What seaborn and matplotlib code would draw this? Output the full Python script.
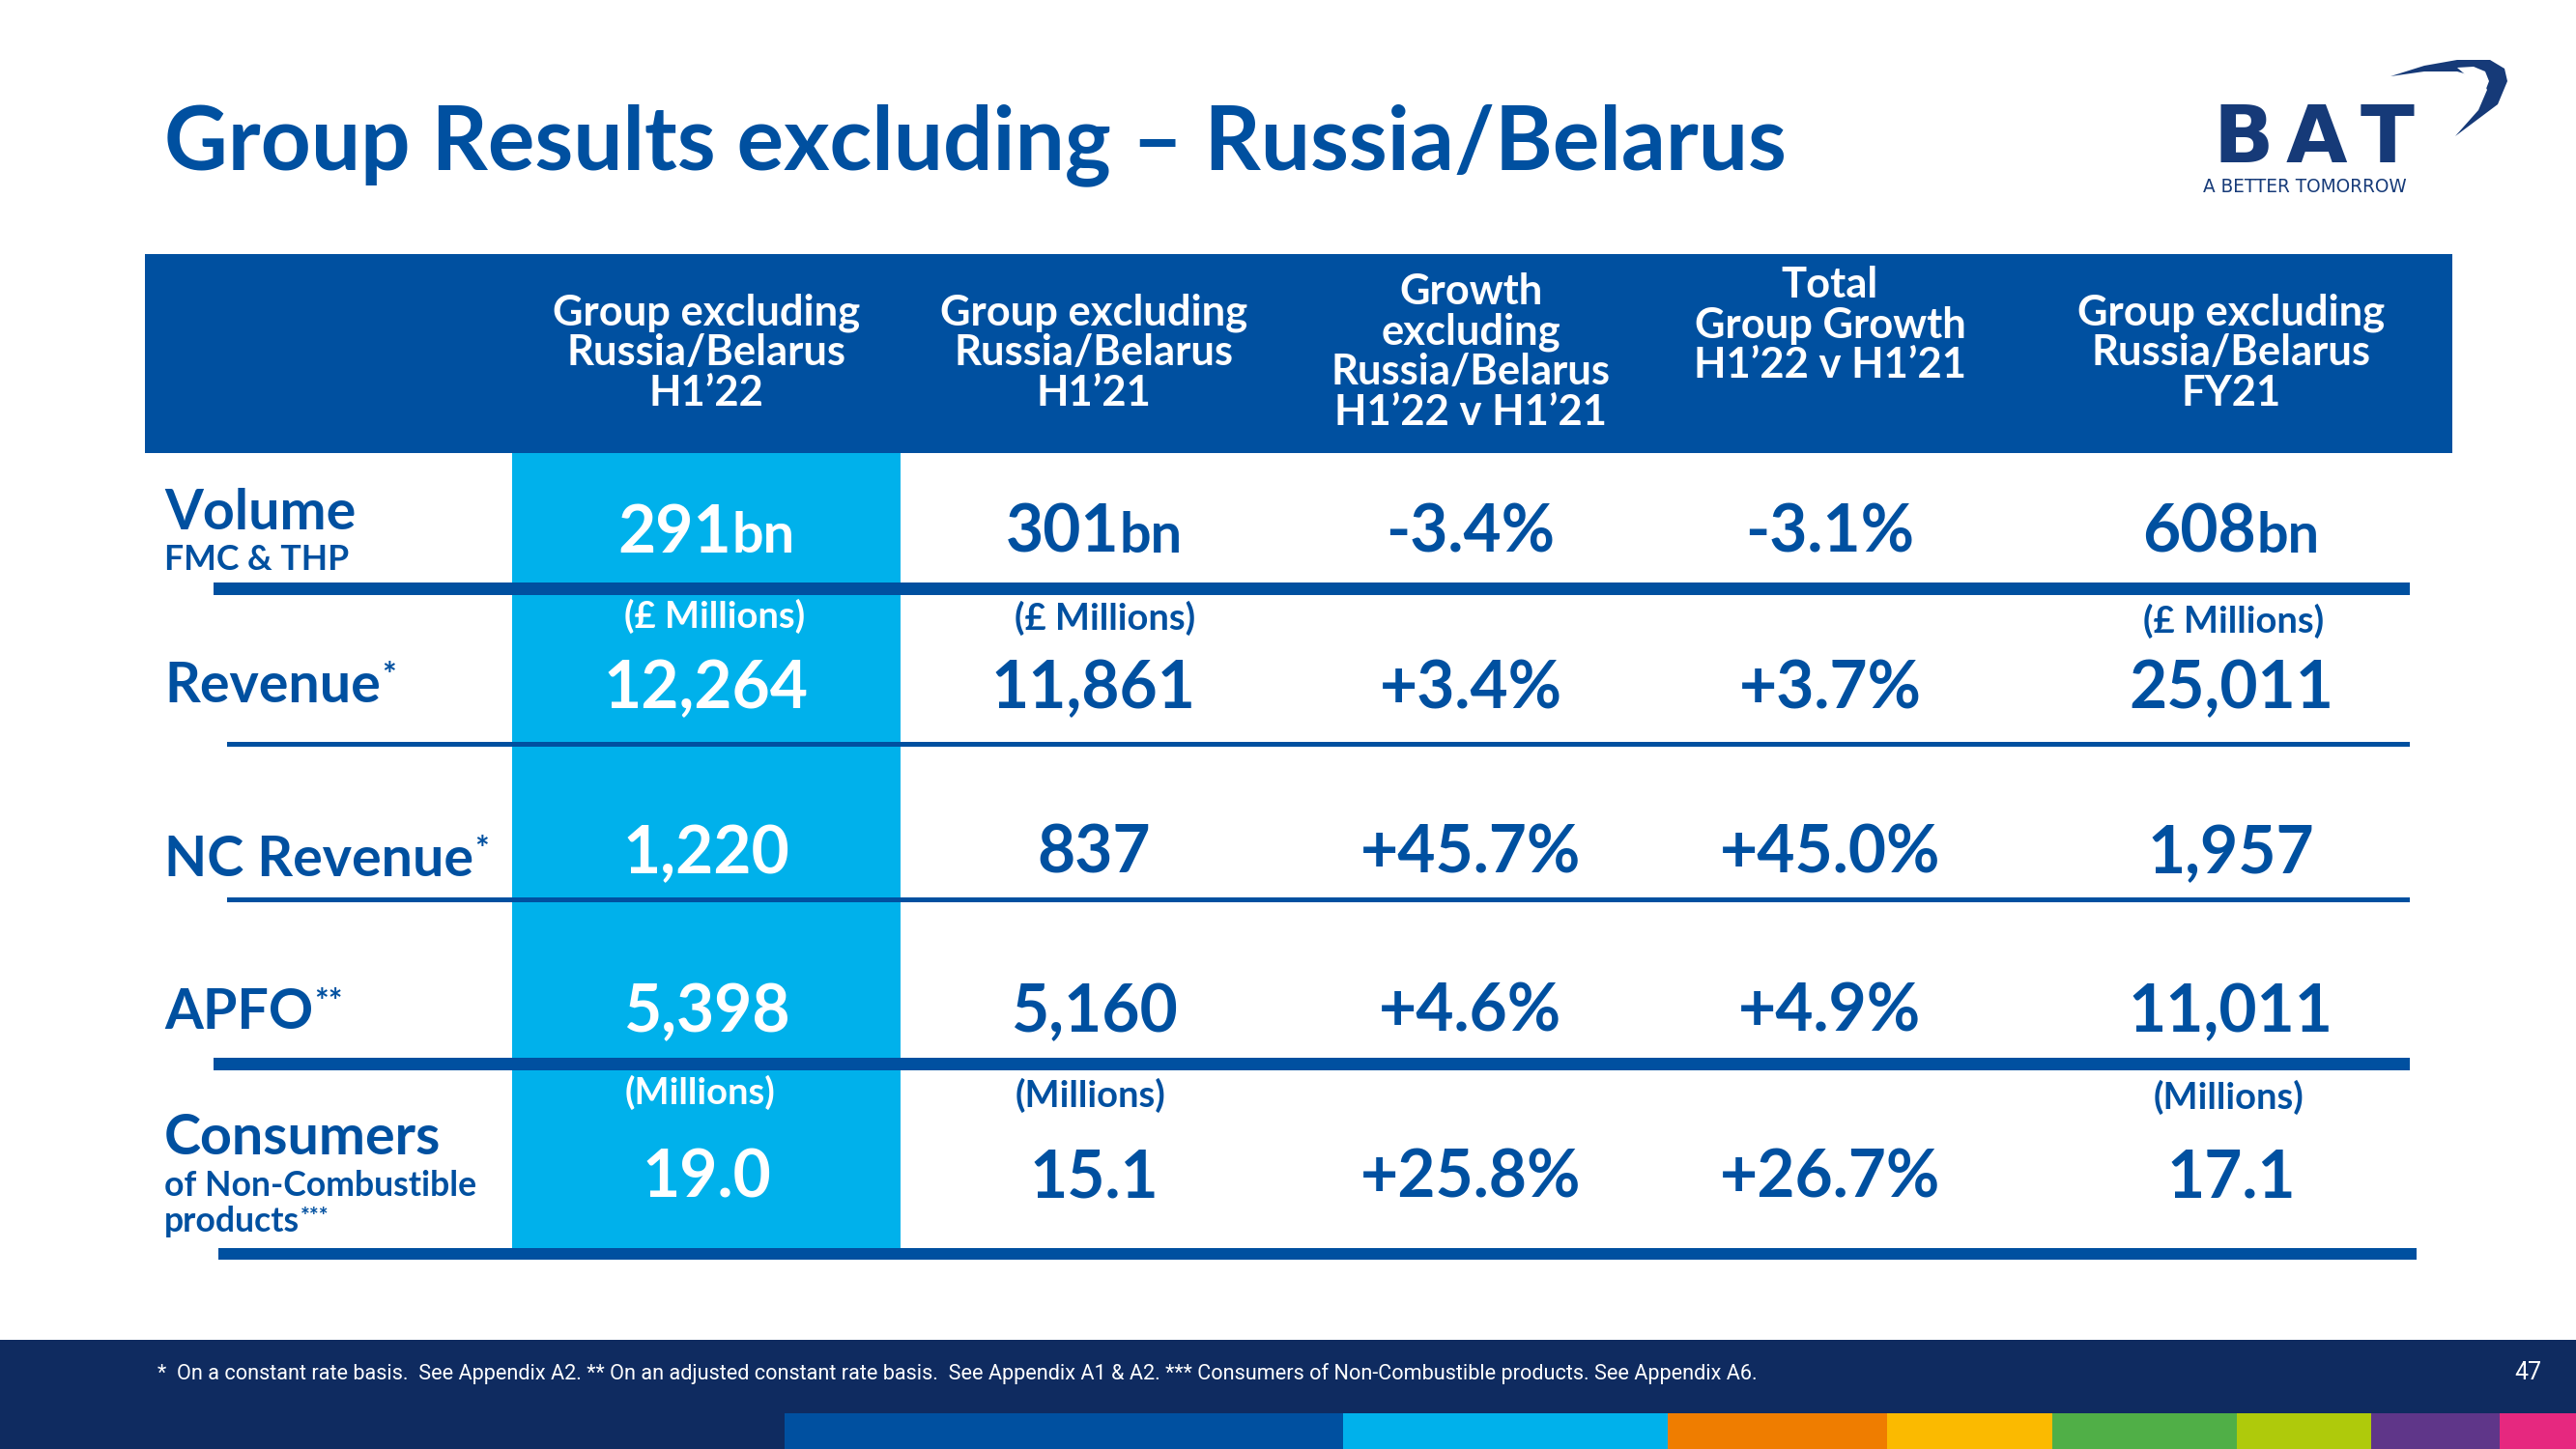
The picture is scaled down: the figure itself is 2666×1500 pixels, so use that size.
import matplotlib
matplotlib.use("Agg")
import matplotlib.pyplot as plt
from matplotlib.patches import Rectangle, Polygon
from matplotlib import font_manager
import seaborn as sns

# ---------------- data ----------------
title = "Group Results excluding – Russia/Belarus"
col_headers = [
    ["Group excluding", "Russia/Belarus", "H1’22"],
    ["Group excluding", "Russia/Belarus", "H1’21"],
    ["Growth", "excluding", "Russia/Belarus", "H1’22 v H1’21"],
    ["Total", "Group Growth", "H1’22 v H1’21"],
    ["Group excluding", "Russia/Belarus", "FY21"],
]
row_labels = ["Volume", "Revenue", "NC Revenue", "APFO", "Consumers"]
row_marks = ["", "*", "*", "**", ""]
row_sublabels = [["FMC & THP"], [], [], [], ["of Non-Combustible", "products"]]
row_sub_marks = [[""], [], [], [], ["", "***"]]

volume = ["291", "301", "-3.4%", "-3.1%", "608"]
volume_suffix = ["bn", "bn", "", "", "bn"]
revenue = ["12,264", "11,861", "+3.4%", "+3.7%", "25,011"]
nc_revenue = ["1,220", "837", "+45.7%", "+45.0%", "1,957"]
apfo = ["5,398", "5,160", "+4.6%", "+4.9%", "11,011"]
consumers = ["19.0", "15.1", "+25.8%", "+26.7%", "17.1"]
units_revenue = ["(£ Millions)", "(£ Millions)", "", "", "(£ Millions)"]
units_consumers = ["(Millions)", "(Millions)", "", "", "(Millions)"]

footnote = ("*  On a constant rate basis.  See Appendix A2. ** On an adjusted constant rate basis.  "
            "See Appendix A1 & A2. *** Consumers of Non-Combustible products. See Appendix A6.")
page_number = "47"
logo_letters = ["B", "A", "T"]
logo_tag = "A BETTER TOMORROW"

# ---------------- style ----------------
BLUE = "#0050a0"
LIGHT = "#00b1eb"
NAVY = "#0f2b60"
LOGO = "#163a78"
stripe_colors = ["#0050a0", "#00b1eb", "#ef7d00", "#fbba00", "#50af47", "#afca0b", "#5f3689", "#e6287f"]

sns.set_theme(style="white")

def bold_file(name):
    try:
        f = font_manager.findfont(font_manager.FontProperties(family=name, weight="bold"),
                                  fallback_to_default=False)
    except Exception:
        return False
    low = f.lower()
    return ("bold" in low) or ("black" in low) or ("heavy" in low)

def has_font(name):
    try:
        font_manager.findfont(font_manager.FontProperties(family=name), fallback_to_default=False)
        return True
    except Exception:
        return False

MAIN = "DejaVu Sans"
for cand in ["Lato", "Roboto", "Liberation Sans", "Open Sans", "Inter"]:
    if bold_file(cand):
        MAIN = cand
        break
NARROW = "Liberation Sans Narrow" if has_font("Liberation Sans Narrow") else "Roboto"
plt.rcParams["font.family"] = [MAIN, "DejaVu Sans"]

W, H = 2666, 1500
fig = plt.figure(figsize=(W / 100, H / 100), dpi=100)
ax = fig.add_axes([0, 0, 1, 1])
ax.set_xlim(0, W)
ax.set_ylim(H, 0)
ax.axis("off")
renderer = fig.canvas.get_renderer()

def width(s, size, **kw):
    t = ax.text(0, 0, s, fontsize=size, **kw)
    w = t.get_window_extent(renderer).width
    t.remove()
    return w

def fit(s, target, **kw):
    return 100.0 * target / width(s, 100, **kw)

def rect(x0, x1, y0, y1, color, z=1):
    ax.add_patch(Rectangle((x0, y0), x1 - x0, y1 - y0, facecolor=color, edgecolor="none", zorder=z))

BOLD = dict(fontweight="bold")

# ---------------- title ----------------
s_title = fit(title, 1680, **BOLD)
ax.text(170, 175, title, fontsize=s_title, color=BLUE, va="baseline", ha="left", **BOLD)

# ---------------- logo ----------------
s_logo = 60 / 0.73 / (100 / 72.0)
for letter, cx in zip(logo_letters, [2322, 2397, 2471]):
    ax.text(cx, 168, letter, fontsize=s_logo, color=LOGO, va="baseline", ha="center",
            family="DejaVu Sans", **BOLD)
s_tag = fit(logo_tag, 211, family="DejaVu Sans")
ax.text(2280, 199, logo_tag, fontsize=s_tag, color=LOGO, va="baseline", ha="left", family="DejaVu Sans")
sw1 = [(2474, 79), (2509, 68), (2543, 62), (2577, 62), (2592, 71), (2595, 84), (2585, 108),
       (2541, 141), (2565, 114), (2574, 93), (2568, 81), (2543, 74), (2509, 74)]
ax.add_patch(Polygon(sw1, closed=True, facecolor=LOGO, edgecolor="none", zorder=3))
sw2 = [(2543, 70), (2560, 69), (2572, 74), (2576, 84), (2571, 97), (2560, 84), (2550, 76)]
ax.add_patch(Polygon(sw2, closed=True, facecolor="white", edgecolor="none", zorder=4))

# ---------------- table frame ----------------
col_x = [731, 1132, 1522, 1894, 2309]
rect(150, 2538, 263, 469, BLUE, 1)
rect(530, 932, 469, 1292, LIGHT, 1)
rules = [(221, 2494, 609, 13), (235, 2494, 770, 5), (235, 2494, 931, 5),
         (221, 2494, 1101, 13), (226, 2501, 1298, 12)]
for x0, x1, yc, th in rules:
    rect(x0, x1, yc - th / 2, yc + th / 2, BLUE, 3)

# header text
s_head = fit("Group excluding", 318, **BOLD)
head_baselines = [[337, 378, 420], [337, 378, 420], [315, 357, 398, 440],
                  [308, 350, 391], [337, 378, 420]]
for cx, lines, bls in zip(col_x, col_headers, head_baselines):
    for ln, bl in zip(lines, bls):
        ax.text(cx, bl, ln, fontsize=s_head, color="white", ha="center", va="baseline", zorder=5, **BOLD)

# row labels
s_lab = fit("Revenue", 224, **BOLD)
s_sub = fit("of Non-Combustible", 323, **BOLD)
lab_base = [548, 727, 907, 1065, 1195]
sub_base = [[590], [], [], [], [1238, 1275]]
px = 100 / 72.0
cap = 0.72

def label_with_mark(x, y, s, size, mark, msize):
    ax.text(x, y, s, fontsize=size, color=BLUE, ha="left", va="baseline", zorder=5, **BOLD)
    if mark:
        w = width(s, size, **BOLD)
        yb = y - cap * size * px + cap * msize * px
        ax.text(x + w + 1, yb, mark, fontsize=msize, color=BLUE, ha="left", va="baseline", zorder=5, **BOLD)

for lab, mk, y, subs, smk, sbs in zip(row_labels, row_marks, lab_base, row_sublabels, row_sub_marks, sub_base):
    label_with_mark(170, y, lab, s_lab, mk, s_lab * 0.6)
    for sl, sm, sb in zip(subs, smk, sbs):
        label_with_mark(170, sb, sl, s_sub, sm, s_sub * 0.65)

# values
s_val = fit("12,264", 212, **BOLD)
s_bn = fit("bn", 65, **BOLD)
val_base = [572, 733, 904, 1068, 1239]
rows = [volume, revenue, nc_revenue, apfo, consumers]
for r, (vals, yb) in enumerate(zip(rows, val_base)):
    for c, (cx, v) in enumerate(zip(col_x, vals)):
        color = "white" if c == 0 else BLUE
        suf = volume_suffix[c] if r == 0 else ""
        if suf:
            w1 = width(v, s_val, **BOLD)
            w2 = width(suf, s_bn, **BOLD)
            x0 = cx - (w1 + w2) / 2
            ax.text(x0, yb, v, fontsize=s_val, color=color, ha="left", va="baseline", zorder=5, **BOLD)
            ax.text(x0 + w1, yb, suf, fontsize=s_bn, color=color, ha="left", va="baseline", zorder=5, **BOLD)
        else:
            ax.text(cx, yb, v, fontsize=s_val, color=color, ha="center", va="baseline", zorder=5, **BOLD)

# units
s_unit = fit("(£ Millions)", 187, **BOLD)
unit_x_rev = [740, 1144, 0, 0, 2312]
unit_b_rev = [650, 652, 0, 0, 655]
unit_x_con = [724, 1128, 0, 0, 2306]
unit_b_con = [1143, 1146, 0, 0, 1148]
for c, u in enumerate(units_revenue):
    if u:
        ax.text(unit_x_rev[c], unit_b_rev[c], u, fontsize=s_unit, color="white" if c == 0 else BLUE,
                ha="center", va="baseline", zorder=5, **BOLD)
for c, u in enumerate(units_consumers):
    if u:
        ax.text(unit_x_con[c], unit_b_con[c], u, fontsize=s_unit, color="white" if c == 0 else BLUE,
                ha="center", va="baseline", zorder=5, **BOLD)

# ---------------- footer ----------------
rect(0, W, 1387, H, NAVY, 1)
edges = [812, 1390, 1726, 1953, 2124, 2315, 2454, 2587, W]
for x0, x1, col in zip(edges[:-1], edges[1:], stripe_colors):
    rect(x0, x1, 1463, H, col, 2)
s_fn = fit(footnote, 1653, family=NARROW)
ax.text(163, 1428, footnote, fontsize=s_fn, color="white", ha="left", va="baseline", family=NARROW, zorder=5)
ax.text(2616, 1428, page_number, fontsize=s_fn * 1.15, color="white", ha="center", va="baseline",
        family=NARROW, zorder=5)

fig.savefig("out.png", dpi=100, facecolor="white")
